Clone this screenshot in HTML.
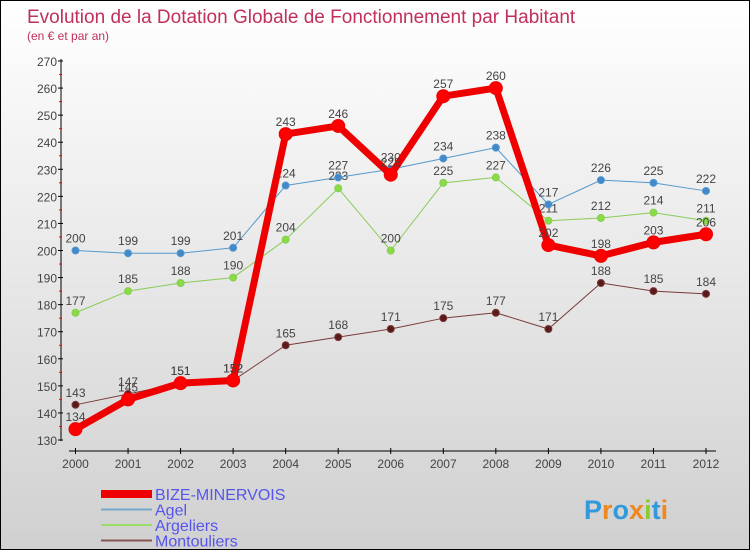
<!DOCTYPE html>
<html><head><meta charset="utf-8"><style>
body{margin:0}
#c{width:748px;height:548px;border:1px solid #000;background:linear-gradient(#fff,#d0d0d0);position:relative;overflow:hidden;font-family:"Liberation Sans",sans-serif}
</style></head><body>
<div id="c">
<svg id="s" width="748" height="548" xmlns="http://www.w3.org/2000/svg" style="position:absolute;left:0;top:0"></svg>
</div>
<script>
const years=["2000","2001","2002","2003","2004","2005","2006","2007","2008","2009","2010","2011","2012"];
const bize=[134,145,151,152,243,246,228,257,260,202,198,203,206];
const agel=[200,199,199,201,224,227,230,234,238,217,226,225,222];
const argeliers=[177,185,188,190,204,223,200,225,227,211,212,214,211];
const montouliers=[143,147,151,152,165,168,171,175,177,171,188,185,184];
const yTicks=[130,140,150,160,170,180,190,200,210,220,230,240,250,260,270];
const NS="http://www.w3.org/2000/svg";
const s=document.getElementById('s');
const X=i=>74.5+i*(705-74.5)/12;
const Y=v=>439-(v-130)*(379/140);
function el(t,a,p){const e=document.createElementNS(NS,t);for(const k in a)e.setAttribute(k,a[k]);(p||s).appendChild(e);return e;}
function tx(x,y,str,a){const e=el('text',Object.assign({x:x,y:y},a));e.textContent=str;return e;}
let t=tx(26,22,"Evolution de la Dotation Globale de Fonctionnement par Habitant",{fill:"#c0305a","font-size":19});

t=tx(26,39,"(en € et par an)",{fill:"#c0305a","font-size":12});

// axes
let ax=el('g',{});
el('line',{x1:60,y1:58,x2:60,y2:440,stroke:"#000"},ax);
yTicks.forEach((v,i)=>{el('line',{x1:57,y1:Y(v),x2:62,y2:Y(v),stroke:"#000"},ax);
 if(i<yTicks.length-1)el('line',{x1:58,y1:Y(v+5),x2:61,y2:Y(v+5),stroke:"#f00"},ax);
 tx(56,Y(v)+5,v,{"text-anchor":"end","font-size":12,fill:"#444"},ax);});
let xa=el('g',{});
el('line',{x1:68,y1:450,x2:715,y2:450,stroke:"#000"},xa);
years.forEach((y,i)=>{el('line',{x1:X(i),y1:447,x2:X(i),y2:453,stroke:"#000"},xa);
 tx(X(i),467,y,{"text-anchor":"middle","font-size":12,fill:"#444"},xa);});
function series(name,data,color,w,r,dot){
 const g=el('g',{});
 el('polyline',{points:data.map((v,i)=>X(i)+','+Y(v)).join(' '),fill:'none',stroke:color,'stroke-width':w,'stroke-linejoin':'round'},g);
 data.forEach((v,i)=>{const c=el('circle',{cx:X(i),cy:Y(v),r:r,fill:dot,stroke:color,'stroke-width':1},g);
  
  tx(X(i),Y(v)-8,v,{"text-anchor":"middle","font-size":12,fill:"#444"},g);});
}
series('montouliers',montouliers,'#7a3a3a',1,3.5,'#5a1a1a');
series('argeliers',argeliers,'#88cc55',1,3.5,'#88dd44');
series('agel',agel,'#5599cc',1,3.5,'#4488cc');
series('bize-minervois',bize,'#ee0000',7,6.5,'#ff0000');
// legend
const leg=[['BIZE-MINERVOIS','#ee0000',8],['Agel','#77aacc',2],['Argeliers','#99dd66',2],['Montouliers','#885555',2]];
leg.forEach((l,i)=>{const g=el('g',{});
 const y=493+i*15.5;el('line',{x1:100,y1:y,x2:151,y2:y,stroke:l[1],'stroke-width':l[2]},g);
 tx(154,y+6,l[0],{"font-size":16,fill:"#5555ee"},g);});
// logo
const lg=tx(583,518,"",{"font-size":27,"font-weight":"bold"});

[['P','#3399dd'],['r','#ee8822'],['o','#3399dd'],['x','#ee8822'],['i','#88cc33'],['t','#3399dd'],['i','#ee8822']].forEach(p=>{el('tspan',{fill:p[1]},lg).textContent=p[0];});
</script>
</body></html>
